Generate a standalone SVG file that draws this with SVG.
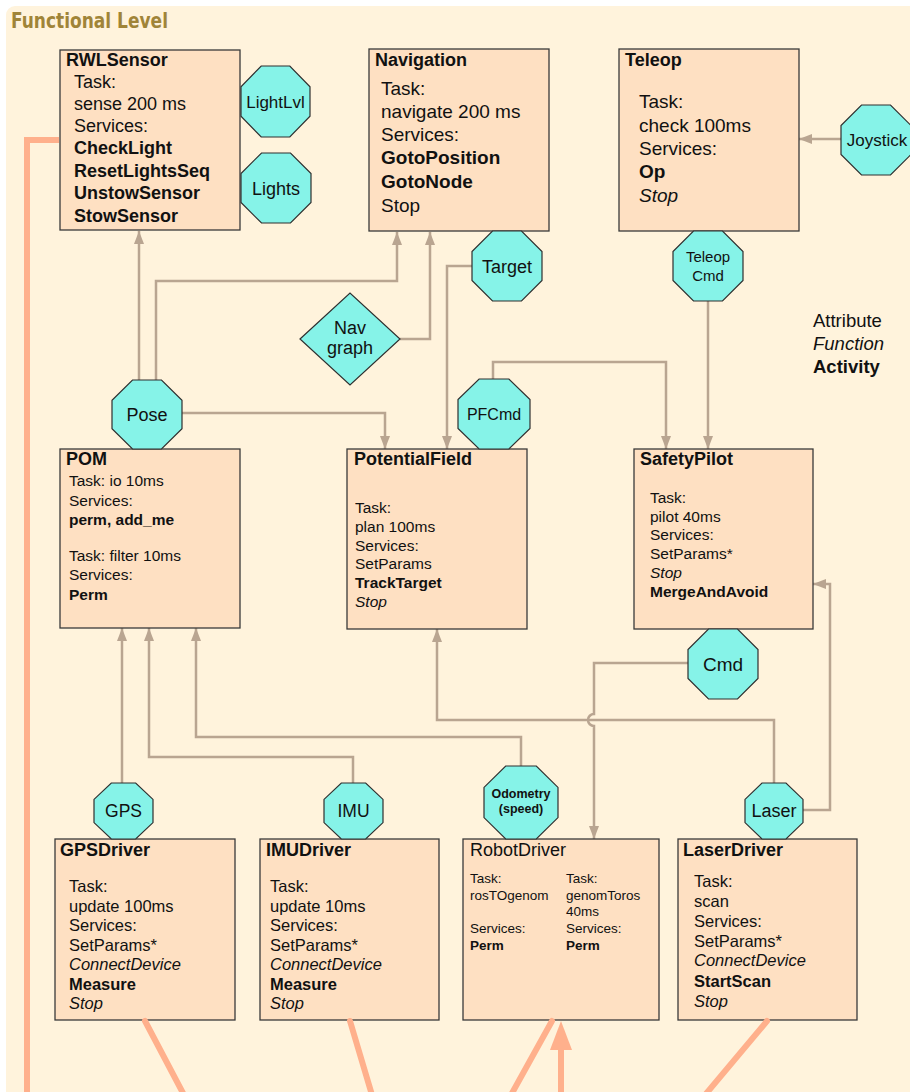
<svg xmlns="http://www.w3.org/2000/svg" width="910" height="1092" viewBox="0 0 910 1092">
<defs>
<style>
text{font-family:"Liberation Sans",Arial,sans-serif;fill:#111}
.box{fill:#FEE0C2;stroke:#3a3a3a;stroke-width:1.3}
.oct{fill:#86F3E8;stroke:#2f2f2f;stroke-width:1.2}
.ttl{font-weight:bold;font-size:18px}
.b{font-weight:bold}
.i{font-style:italic}
.c{text-anchor:middle}
.conn{fill:none;stroke:#B9A591;stroke-width:2.5;marker-end:url(#arr)}
.org{fill:none;stroke:#FFB08C;stroke-width:6;stroke-linecap:round}
</style>
<marker id="arr" markerUnits="userSpaceOnUse" markerWidth="13" markerHeight="10" refX="13" refY="5" orient="auto">
<path d="M0,0 L13,5 L0,10 z" fill="#B9A591"/>
</marker>
</defs>
<rect x="0" y="0" width="910" height="1092" fill="#ffffff"/>
<rect x="6" y="6" width="920" height="1100" rx="9" fill="#FFF3DC"/>
<text x="11" y="28" style="font-family:'DejaVu Sans Condensed','DejaVu Sans',sans-serif;font-weight:bold;font-size:21px;fill:#A08438" textLength="157" lengthAdjust="spacingAndGlyphs">Functional Level</text>

<g id="connectors">
<path class="conn" d="M139,380 V231"/>
<path class="conn" d="M156,380 V281 H397 V232"/>
<path class="conn" d="M400,339 H430 V232"/>
<path class="conn" d="M472,266 H447 V449"/>
<path class="conn" d="M182,413 H385 V449"/>
<path class="conn" d="M493,379 V362 H666 V449"/>
<path class="conn" d="M708,301 V449"/>
<path class="conn" d="M841,139 H799"/>
<path class="conn" d="M803,810 H830 V584 H813"/>
<path class="conn" d="M774,783 V720 H437 V629"/>
<path class="conn" d="M688,663 H594 V714 A6,6 0 0 0 594,726 V839"/>
<path class="conn" d="M521,766 V737 H196 V628"/>
<path class="conn" d="M353,783 V757 H149 V628"/>
<path class="conn" d="M122,783 V628"/>
</g>

<g id="RWLSensor">
<rect class="box" x="60" y="50" width="180" height="180"/>
<text class="ttl" x="66" y="66">RWLSensor</text>
<g style="font-size:18px">
<text x="74" y="88">Task:</text>
<text x="74" y="110">sense 200 ms</text>
<text x="74" y="132">Services:</text>
<text class="b" x="74" y="154">CheckLight</text>
<text class="b" x="74" y="177">ResetLightsSeq</text>
<text class="b" x="74" y="199">UnstowSensor</text>
<text class="b" x="74" y="222">StowSensor</text>
</g>
</g>

<g id="Navigation">
<rect class="box" x="369" y="49" width="180" height="182"/>
<text class="ttl" x="375" y="66">Navigation</text>
<g style="font-size:19px">
<text x="381" y="95">Task:</text>
<text x="381" y="118">navigate 200 ms</text>
<text x="381" y="141">Services:</text>
<text class="b" x="381" y="164">GotoPosition</text>
<text class="b" x="381" y="188">GotoNode</text>
<text x="381" y="212">Stop</text>
</g>
</g>

<g id="Teleop">
<rect class="box" x="619" y="49" width="180" height="182"/>
<text class="ttl" x="625" y="66">Teleop</text>
<g style="font-size:19px">
<text x="639" y="108">Task:</text>
<text x="639" y="132">check 100ms</text>
<text x="639" y="155">Services:</text>
<text class="b" x="639" y="178">Op</text>
<text class="i" x="639" y="202">Stop</text>
</g>
</g>

<g id="POM">
<rect class="box" x="60" y="449" width="180" height="179"/>
<text class="ttl" x="66" y="465">POM</text>
<g style="font-size:15.5px">
<text x="69" y="486">Task: io 10ms</text>
<text x="69" y="506">Services:</text>
<text class="b" x="69" y="525">perm, add_me</text>
<text x="69" y="561">Task: filter 10ms</text>
<text x="69" y="580">Services:</text>
<text class="b" x="69" y="600">Perm</text>
</g>
</g>

<g id="PotentialField">
<rect class="box" x="347" y="449" width="180" height="180"/>
<text class="ttl" x="354" y="465">PotentialField</text>
<g style="font-size:15.5px">
<text x="355" y="513">Task:</text>
<text x="355" y="532">plan 100ms</text>
<text x="355" y="551">Services:</text>
<text x="355" y="569">SetParams</text>
<text class="b" x="355" y="588">TrackTarget</text>
<text class="i" x="355" y="607">Stop</text>
</g>
</g>

<g id="SafetyPilot">
<rect class="box" x="634" y="449" width="179" height="180"/>
<text class="ttl" x="640" y="465">SafetyPilot</text>
<g style="font-size:15.5px">
<text x="650" y="503">Task:</text>
<text x="650" y="522">pilot 40ms</text>
<text x="650" y="540">Services:</text>
<text x="650" y="559">SetParams*</text>
<text class="i" x="650" y="578">Stop</text>
<text class="b" x="650" y="597">MergeAndAvoid</text>
</g>
</g>

<g id="GPSDriver">
<rect class="box" x="55" y="839" width="180" height="181"/>
<text class="ttl" x="60" y="856">GPSDriver</text>
<g style="font-size:16.5px">
<text x="69" y="892">Task:</text>
<text x="69" y="911.5">update 100ms</text>
<text x="69" y="931">Services:</text>
<text x="69" y="950.5">SetParams*</text>
<text class="i" x="69" y="970">ConnectDevice</text>
<text class="b" x="69" y="990">Measure</text>
<text class="i" x="69" y="1009">Stop</text>
</g>
</g>

<g id="IMUDriver">
<rect class="box" x="260" y="839" width="179" height="181"/>
<text class="ttl" x="266" y="856">IMUDriver</text>
<g style="font-size:16.5px">
<text x="270" y="892">Task:</text>
<text x="270" y="911.5">update 10ms</text>
<text x="270" y="931">Services:</text>
<text x="270" y="950.5">SetParams*</text>
<text class="i" x="270" y="970">ConnectDevice</text>
<text class="b" x="270" y="990">Measure</text>
<text class="i" x="270" y="1009">Stop</text>
</g>
</g>

<g id="RobotDriver">
<rect class="box" x="463" y="839" width="196" height="181"/>
<text x="470" y="856" style="font-size:18px">RobotDriver</text>
<g style="font-size:13.5px">
<text x="470" y="883">Task:</text>
<text x="470" y="900">rosTOgenom</text>
<text x="470" y="933">Services:</text>
<text class="b" x="470" y="950">Perm</text>
<text x="566" y="883">Task:</text>
<text x="566" y="900">genomToros</text>
<text x="566" y="916">40ms</text>
<text x="566" y="933">Services:</text>
<text class="b" x="566" y="950">Perm</text>
</g>
</g>

<g id="LaserDriver">
<rect class="box" x="678" y="839" width="179" height="181"/>
<text class="ttl" x="683" y="856">LaserDriver</text>
<g style="font-size:16.5px">
<text x="694" y="887">Task:</text>
<text x="694" y="907">scan</text>
<text x="694" y="927">Services:</text>
<text x="694" y="947">SetParams*</text>
<text class="i" x="694" y="966">ConnectDevice</text>
<text class="b" x="694" y="987">StartScan</text>
<text class="i" x="694" y="1007">Stop</text>
</g>
</g>

<g id="LightLvl">
<polygon class="oct" points="261.2,66 289.8,66 310,86.8 310,116.2 289.8,137 261.2,137 241,116.2 241,86.8"/>
<text class="c" x="275.5" y="107.5" style="font-size:17px">LightLvl</text>
</g>
<g id="Lights">
<polygon class="oct" points="261.5,153 290.5,153 311,173.5 311,202.5 290.5,223 261.5,223 241,202.5 241,173.5"/>
<text class="c" x="276" y="194.5" style="font-size:18px">Lights</text>
</g>
<g id="Target">
<polygon class="oct" points="492.5,231 521.5,231 542,251.5 542,280.5 521.5,301 492.5,301 472,280.5 472,251.5"/>
<text class="c" x="507" y="272.5" style="font-size:18px">Target</text>
</g>
<g id="Joystick">
<polygon class="oct" points="861.5,105 890.5,105 911,125.5 911,154.5 890.5,175 861.5,175 841,154.5 841,125.5"/>
<text class="c" x="877" y="146" style="font-size:17px">Joystick</text>
</g>
<g id="TeleopCmd">
<polygon class="oct" points="693.5,231 722.5,231 743,251.5 743,280.5 722.5,301 693.5,301 673,280.5 673,251.5"/>
<text class="c" x="708" y="262" style="font-size:15px">Teleop</text>
<text class="c" x="708" y="281" style="font-size:15px">Cmd</text>
</g>
<g id="NavGraph">
<polygon class="oct" points="300,339 350,293 400,339 350,385"/>
<text class="c" x="350" y="334" style="font-size:18px">Nav</text>
<text class="c" x="350" y="354" style="font-size:18px">graph</text>
</g>
<g id="Pose">
<polygon class="oct" points="132.5,380 161.5,380 182,400.2 182,428.8 161.5,449 132.5,449 112,428.8 112,400.2"/>
<text class="c" x="147" y="421" style="font-size:18px">Pose</text>
</g>
<g id="PFCmd">
<polygon class="oct" points="479.1,379 508.9,379 530,399.5 530,428.5 508.9,449 479.1,449 458,428.5 458,399.5"/>
<text class="c" x="494" y="420" style="font-size:16px">PFCmd</text>
</g>
<g id="Cmd">
<polygon class="oct" points="708.5,629 737.5,629 758,649.5 758,678.5 737.5,699 708.5,699 688,678.5 688,649.5"/>
<text class="c" x="723" y="671" style="font-size:19px">Cmd</text>
</g>
<g id="GPS">
<polygon class="oct" points="111.3,783 135.7,783 153,799.4 153,822.6 135.7,839 111.3,839 94,822.6 94,799.4"/>
<text class="c" x="123.5" y="817" style="font-size:17.5px">GPS</text>
</g>
<g id="IMU">
<polygon class="oct" points="341.3,783 365.7,783 383,799.4 383,822.6 365.7,839 341.3,839 324,822.6 324,799.4"/>
<text class="c" x="353.5" y="817" style="font-size:17.5px">IMU</text>
</g>
<g id="Odometry">
<polygon class="oct" points="505.7,766 536.3,766 558,787.4 558,817.6 536.3,839 505.7,839 484,817.6 484,787.4"/>
<text class="c b" x="521" y="798" style="font-size:12.5px">Odometry</text>
<text class="c b" x="521" y="813" style="font-size:12.5px">(speed)</text>
</g>
<g id="Laser">
<polygon class="oct" points="762,783 786,783 803,799.4 803,822.6 786,839 762,839 745,822.6 745,799.4"/>
<text class="c" x="774" y="817" style="font-size:18px">Laser</text>
</g>

<g id="legend" style="font-size:18.5px">
<text x="813" y="327">Attribute</text>
<text class="i" x="813" y="350">Function</text>
<text class="b" x="813" y="373">Activity</text>
</g>

<g id="external-links">
<path class="org" d="M27,1095 V140 H59" style="stroke-linecap:butt"/>
<path class="org" d="M145,1021 L184,1095"/>
<path class="org" d="M350,1021 L372,1095"/>
<path class="org" d="M552,1021 L511,1095"/>
<path class="org" d="M767,1021 L705,1095"/>
<path class="org" d="M561,1095 V1048" style="stroke-linecap:butt"/>
<polygon points="550,1050 572,1050 561,1021" fill="#FFB08C"/>
</g>
</svg>
